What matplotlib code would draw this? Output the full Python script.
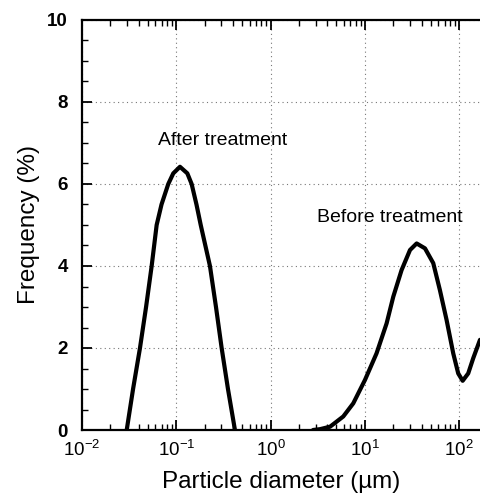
import matplotlib
matplotlib.use("Agg")
import matplotlib.pyplot as plt
from matplotlib.ticker import LogLocator, MultipleLocator, FixedLocator, FixedFormatter

plt.rcParams['font.family'] = ['Liberation Sans', 'DejaVu Sans']
plt.rcParams['mathtext.fontset'] = 'custom'
plt.rcParams['mathtext.rm'] = 'Liberation Sans'
plt.rcParams['mathtext.it'] = 'Liberation Sans:italic'
plt.rcParams['mathtext.bf'] = 'Liberation Sans:bold'

# After treatment (diameter um, frequency %)
after_d = [0.0298, 0.0348, 0.0412, 0.0478, 0.0548, 0.0619, 0.0697, 0.0822, 0.0929,
           0.1094, 0.1309, 0.1455, 0.1637, 0.1816, 0.2275, 0.2636, 0.3027, 0.3532, 0.4188]
after_f = [0.0, 1.0, 2.0, 3.0, 4.0, 5.0, 5.5, 6.0, 6.26,
           6.42, 6.26, 6.0, 5.5, 5.0, 4.0, 3.0, 2.0, 1.0, 0.0]

# Before treatment
before_d = [2.82, 3.34, 4.27, 5.90, 7.53, 10.02, 13.3, 17.0, 20.0, 24.5, 30.1,
            35.4, 43.4, 53.1, 62.5, 73.6, 86.5, 97.7, 108.9, 124.7, 140.9, 166.3]
before_f = [0.0, 0.02, 0.08, 0.33, 0.65, 1.22, 1.87, 2.6, 3.25, 3.9, 4.39,
            4.55, 4.43, 4.07, 3.41, 2.68, 1.87, 1.38, 1.20, 1.38, 1.75, 2.2]

x_ticks = [0.01, 0.1, 1, 10, 100]
x_tick_labels = ['$10^{-2}$', '$10^{-1}$', '$10^{0}$', '$10^{1}$', '$10^{2}$']
y_ticks = [0, 2, 4, 6, 8, 10]

fig = plt.figure(figsize=(4.8, 4.94), dpi=100)
ax = fig.add_axes([82/480, 1-430/494, 1-82/480, 410/494])

ax.plot(after_d, after_f, color='black', lw=3.0, solid_joinstyle='round', solid_capstyle='round')
ax.plot(before_d, before_f, color='black', lw=3.0, solid_joinstyle='round', solid_capstyle='round')

ax.set_xscale('log')
ax.set_xlim(0.01, 166.3)
ax.set_ylim(0, 10)

ax.xaxis.set_major_locator(FixedLocator(x_ticks))
ax.xaxis.set_major_formatter(FixedFormatter(x_tick_labels))
ax.xaxis.set_minor_locator(LogLocator(base=10, subs=range(2, 10), numticks=20))
ax.yaxis.set_major_locator(FixedLocator(y_ticks))
ax.yaxis.set_minor_locator(MultipleLocator(0.5))

ax.tick_params(axis='both', which='major', direction='in', length=7, width=1.3,
               labelsize=13.5, top=True)
ax.tick_params(axis='both', which='minor', direction='in', length=4, width=1.0, top=True)
ax.tick_params(axis='x', which='major', pad=7)
ax.tick_params(axis='y', which='major', pad=10)
for lab in ax.get_yticklabels():
    lab.set_fontweight('bold')

ax.grid(True, which='major', color='#777777', linestyle=(0, (1, 3)), linewidth=0.8)

ax.spines['right'].set_visible(False)
for s in ['left', 'bottom', 'top']:
    ax.spines[s].set_linewidth(1.6)

ax.text(0.31, 6.95, 'After treatment', fontsize=14, ha='center', va='baseline')
ax.text(18.4, 5.07, 'Before treatment', fontsize=14, ha='center', va='baseline')

ax.set_xlabel('Particle diameter (\u00b5m)', fontsize=17.5, labelpad=8)
ax.set_ylabel('Frequency (%)', fontsize=17.5, labelpad=5)

fig.savefig('out.png', dpi=100)
